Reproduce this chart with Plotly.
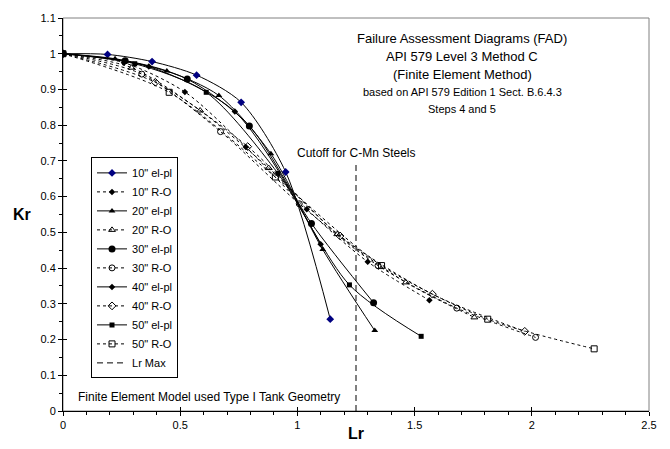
import plotly.graph_objects as go

# Failure assessment curves: Lr (load ratio) vs Kr (toughness ratio)
lr_10_elpl = [0, 0.19, 0.38, 0.57, 0.76, 0.95, 1.14]
kr_10_elpl = [1.0, 0.998, 0.978, 0.94, 0.864, 0.669, 0.257]
lr_10_ro = [0, 0.26, 0.52, 0.78, 1.04, 1.30, 1.563]
kr_10_ro = [1.0, 0.975, 0.893, 0.739, 0.565, 0.4175, 0.31]

lr_20_elpl = [0, 0.222, 0.443, 0.665, 0.887, 1.108, 1.33]
kr_20_elpl = [1.0, 0.986, 0.952, 0.883, 0.72, 0.452, 0.225]
lr_20_ro = [0, 0.2925, 0.585, 0.8775, 1.17, 1.4625, 1.755]
kr_20_ro = [1.0, 0.961, 0.841, 0.68, 0.495, 0.36, 0.262]

lr_30_elpl = [0, 0.265, 0.53, 0.795, 1.06, 1.325]
kr_30_elpl = [1.0, 0.98, 0.929, 0.798, 0.525, 0.303]
lr_30_ro = [0, 0.336, 0.672, 1.008, 1.344, 1.68, 2.016]
kr_30_ro = [1.0, 0.943, 0.782, 0.58, 0.407, 0.288, 0.206]

lr_40_elpl = [0, 0.366, 0.733, 1.099]
kr_40_elpl = [1.0, 0.964, 0.838, 0.467]
lr_40_ro = [0, 0.394, 0.788, 1.182, 1.576, 1.97]
kr_40_ro = [1.0, 0.92, 0.74, 0.49, 0.327, 0.223]

lr_50_elpl = [0, 0.306, 0.611, 0.917, 1.222, 1.528]
kr_50_elpl = [1.0, 0.972, 0.892, 0.665, 0.353, 0.209]
lr_50_ro = [0, 0.453, 0.906, 1.359, 1.812, 2.266]
kr_50_ro = [1.0, 0.892, 0.655, 0.407, 0.257, 0.174]

# C-Mn steel cutoff (Lr max)
lr_max = [1.25, 1.25]
kr_max = [0, 0.69]

x_ticks = [0, 0.5, 1, 1.5, 2, 2.5]
x_tick_text = ["0", "0.5", "1", "1.5", "2", "2.5"]
y_ticks = [0, 0.1, 0.2, 0.3, 0.4, 0.5, 0.6, 0.7, 0.8, 0.9, 1.0, 1.1]
y_tick_text = ["0", "0.1", "0.2", "0.3", "0.4", "0.5", "0.6", "0.7", "0.8", "0.9", "1", "1.1"]

FONT = "Liberation Sans, Arial, sans-serif"

# (name, x, y, dash, symbol, size, colour)
series = [
    ('10" el-pl', lr_10_elpl, kr_10_elpl, "solid", "diamond", 6, "#000080"),
    ('10" R-O', lr_10_ro, kr_10_ro, "dot", "diamond", 5, "black"),
    ('20" el-pl', lr_20_elpl, kr_20_elpl, "solid", "triangle-up", 6, "black"),
    ('20" R-O', lr_20_ro, kr_20_ro, "dot", "triangle-up-open", 6, "black"),
    ('30" el-pl', lr_30_elpl, kr_30_elpl, "solid", "circle", 7, "black"),
    ('30" R-O', lr_30_ro, kr_30_ro, "dot", "circle-open", 6, "black"),
    ('40" el-pl', lr_40_elpl, kr_40_elpl, "solid", "diamond", 5, "black"),
    ('40" R-O', lr_40_ro, kr_40_ro, "dot", "diamond-open", 6, "black"),
    ('50" el-pl', lr_50_elpl, kr_50_elpl, "solid", "square", 5, "black"),
    ('50" R-O', lr_50_ro, kr_50_ro, "dot", "square-open", 6, "black"),
]

fig = go.Figure()
for name, xs, ys, dash, symbol, size, color in series:
    edge = 1 if symbol.endswith("open") else 0
    fig.add_trace(go.Scatter(
        x=xs, y=ys, name=name, mode="lines+markers",
        line=dict(color="black", width=1, dash=dash, shape="spline", smoothing=0.8),
        marker=dict(symbol=symbol, size=size, color=color,
                    line=dict(width=edge, color=color)),
    ))

fig.add_trace(go.Scatter(
    x=lr_max, y=kr_max, name="Lr Max", mode="lines",
    line=dict(color="black", width=1, dash="6px,4px"),
))

# invisible companion trace so the inward half of each major tick is drawn
fig.add_trace(go.Scatter(x=[None], y=[None], xaxis="x2", yaxis="y2",
                         showlegend=False, hoverinfo="skip"))

axis_font = dict(family=FONT, size=11, color="black")
fig.update_layout(
    width=670, height=449,
    margin=dict(l=63, r=21, t=15, b=38),
    paper_bgcolor="white", plot_bgcolor="white",
    font=dict(family=FONT, color="black"),
    showlegend=True,
    legend=dict(
        x=0.0478, xanchor="left", y=0.083, yanchor="bottom",
        bgcolor="white", bordercolor="black", borderwidth=1,
        font=dict(family=FONT, size=11, color="black"),
        tracegroupgap=0, itemwidth=30,
    ),
    xaxis=dict(
        range=[0, 2.5], tickvals=x_ticks, ticktext=x_tick_text,
        showgrid=False, zeroline=False, showline=True, linecolor="black", linewidth=1,
        ticks="outside", ticklen=4, tickcolor="black", tickfont=axis_font,
        minor=dict(dtick=0.1, ticks="outside", ticklen=3, tickcolor="black", showgrid=False),
    ),
    yaxis=dict(
        range=[0, 1.1], tickvals=y_ticks, ticktext=y_tick_text,
        showgrid=False, zeroline=False, showline=True, linecolor="black", linewidth=1,
        ticks="outside", ticklen=4, tickcolor="black", tickfont=axis_font,
        minor=dict(dtick=0.05, ticks="outside", ticklen=3, tickcolor="black", showgrid=False),
    ),
    xaxis2=dict(overlaying="x", range=[0, 2.5], tickvals=x_ticks, showticklabels=False,
                ticks="inside", ticklen=4, tickcolor="black", showgrid=False,
                zeroline=False, showline=False, anchor="y2", side="bottom"),
    yaxis2=dict(overlaying="y", range=[0, 1.1], tickvals=y_ticks, showticklabels=False,
                ticks="inside", ticklen=4, tickcolor="black", showgrid=False,
                zeroline=False, showline=False, anchor="x2", side="left"),
    shapes=[dict(type="rect", xref="paper", yref="paper", x0=0, x1=1, y0=0, y1=1,
                 line=dict(color="#808080", width=1), layer="below")],
)

title_lines = [
    ("Failure Assessment Diagrams (FAD)", 13, 0.947),
    ("API 579 Level 3 Method C", 13, 0.902),
    ("(Finite Element Method)", 13, 0.855),
    ("based on API 579 Edition 1 Sect. B.6.4.3", 11, 0.811),
    ("Steps 4 and 5", 11, 0.768),
]
for text, size, ypos in title_lines:
    fig.add_annotation(text=text, xref="paper", yref="paper", x=0.681, y=ypos,
                       xanchor="center", yanchor="middle", showarrow=False,
                       font=dict(family=FONT, size=size, color="black"))

fig.add_annotation(text="Cutoff for C-Mn Steels", xref="x", yref="y", x=1.25, y=0.722,
                   xanchor="center", yanchor="middle", showarrow=False,
                   font=dict(family=FONT, size=12, color="black"))
fig.add_annotation(text="Finite Element Model used Type I Tank Geometry", xref="paper", yref="paper",
                   x=0.022, y=0.035, xanchor="left", yanchor="middle", showarrow=False,
                   font=dict(family=FONT, size=12, color="black"))
fig.add_annotation(text="<b>Kr</b>", xref="paper", yref="paper", x=-0.07, y=0.5,
                   xanchor="center", yanchor="middle", showarrow=False,
                   font=dict(family=FONT, size=16, color="black"))
fig.add_annotation(text="<b>Lr</b>", xref="paper", yref="paper", x=0.5, y=-0.056,
                   xanchor="center", yanchor="middle", showarrow=False,
                   font=dict(family=FONT, size=16, color="black"))

fig.write_html("out.html", config=dict(displayModeBar=False))
